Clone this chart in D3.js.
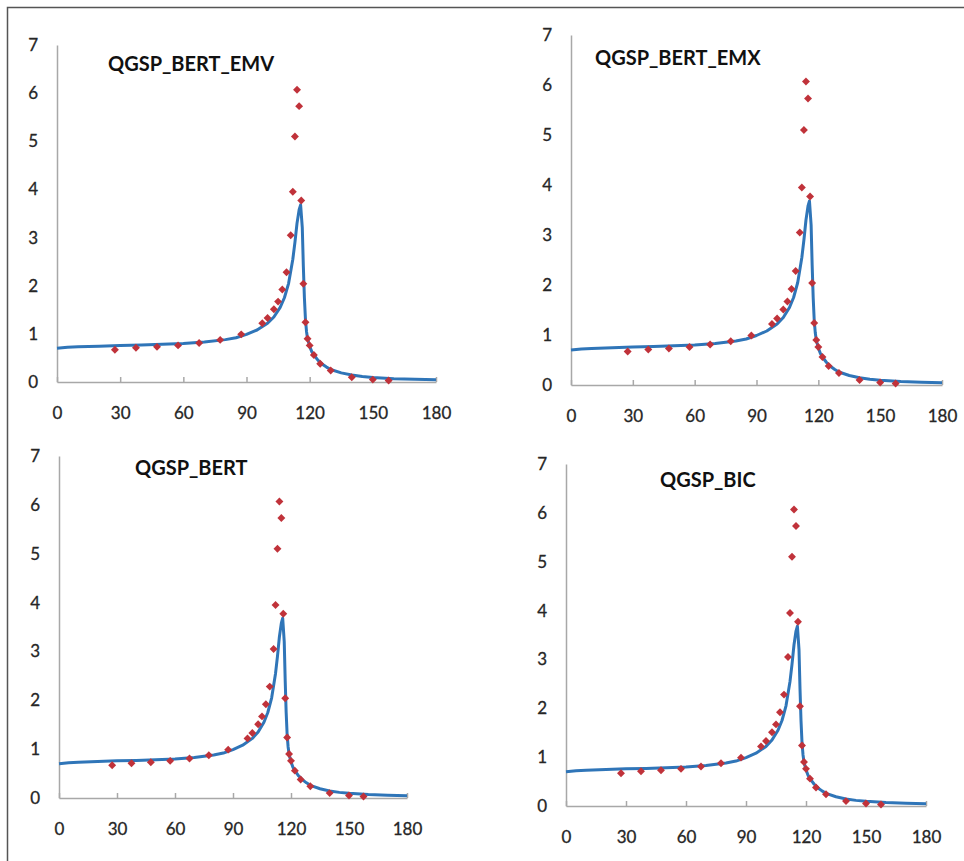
<!DOCTYPE html>
<html>
<head>
<meta charset="utf-8">
<script src="https://cdn.jsdelivr.net/npm/d3@7"></script>
<style>
  html, body { margin: 0; padding: 0; background: #fff; }
  svg { display: block; }
</style>
</head>
<body>
<svg id="chart" width="964" height="861"></svg>
<script>
// Model names, one per panel
const models = ["QGSP_BERT_EMV", "QGSP_BERT_EMX", "QGSP_BERT", "QGSP_BIC"];

// Measured points (angle in degrees, value)
const expAngles = [27.5, 37.5, 47.5, 57.5, 67.5, 77.5, 87.5, 97.5, 100, 103, 105, 107, 109,
                   111, 112, 113, 114, 115, 116, 117, 118, 119, 120, 122, 125, 130, 140, 150, 157.5];
const expValues = [0.67, 0.71, 0.73, 0.76, 0.81, 0.875, 0.99, 1.22, 1.33, 1.51, 1.67, 1.92, 2.28,
                   3.05, 3.95, 5.10, 6.07, 5.73, 3.77, 2.04, 1.24, 0.90, 0.76, 0.56, 0.38, 0.24, 0.10, 0.05, 0.03];

// Simulated curve (angle in degrees, value)
const simAngles = [0, 5, 10, 20, 30, 40, 50, 60, 70, 80, 85, 90, 95, 100, 103, 106, 108, 110,
                   112, 113, 114, 115, 115.7, 116.5, 117, 117.5, 118, 118.5, 119, 120, 121, 122,
                   124, 126, 128, 130, 135, 140, 145, 150, 160, 170, 180];
const simValues = [0.70, 0.72, 0.73, 0.745, 0.76, 0.77, 0.785, 0.80, 0.83, 0.88, 0.92, 0.99, 1.08,
                   1.22, 1.35, 1.55, 1.75, 2.05, 2.55, 2.9, 3.3, 3.58, 3.68, 3.2, 2.4, 1.75, 1.3,
                   1.05, 0.9, 0.74, 0.63, 0.56, 0.45, 0.37, 0.31, 0.26, 0.19, 0.145, 0.115, 0.095,
                   0.07, 0.055, 0.045];

// Axis tick values
const xTicks = [0, 30, 60, 90, 120, 150, 180];
const yTicks = [0, 1, 2, 3, 4, 5, 6, 7];

// Panel geometry: x-range of the angle axis, y of value 0 and 7, title anchor
const panels = [
  { x0: 57,  x1: 436, y0: 382, y7: 45,  tx: 108, ty: 70.5 },
  { x0: 571, x1: 942, y0: 385, y7: 35,  tx: 595, ty: 65 },
  { x0: 59,  x1: 407, y0: 798, y7: 456, tx: 135, ty: 475 },
  { x0: 566, x1: 926, y0: 806, y7: 464, tx: 660, ty: 487 }
];

const svg = d3.select("#chart");
const font = "Lato, 'Open Sans', sans-serif";
const expData = expAngles.map((a, i) => ({ a, v: expValues[i] }));
const simData = simAngles.map((a, i) => ({ a, v: simValues[i] }));

// outer frame (left and top edges)
svg.append("path")
  .attr("d", "M7.5,861 V7.5 H964")
  .attr("fill", "none")
  .attr("stroke", "#555")
  .attr("stroke-width", 1.5);

function styleLabels(sel) {
  sel.attr("font-family", font)
    .attr("font-size", 17)
    .attr("fill", "#262626")
    .attr("stroke", "#262626")
    .attr("stroke-width", 0.3);
}

panels.forEach((p, idx) => {
  const x = d3.scaleLinear().domain([0, 180]).range([p.x0, p.x1]);
  const y = d3.scaleLinear().domain([0, 7]).range([p.y0, p.y7]);
  const g = svg.append("g");

  // value axis
  const yAxis = g.append("g")
    .attr("transform", `translate(${p.x0},0)`)
    .call(d3.axisLeft(y).tickValues(yTicks).tickSize(0).tickPadding(19).tickFormat(d3.format("d")));
  yAxis.select(".domain").attr("stroke", "#a8a8a8").attr("stroke-width", 1.5);
  styleLabels(yAxis.selectAll("text"));

  // angle axis, ticks pointing up into the plot
  const xAxis = g.append("g")
    .attr("transform", `translate(0,${p.y0})`)
    .call(d3.axisBottom(x).tickValues(xTicks).tickSizeInner(-5).tickSizeOuter(0).tickPadding(25));
  xAxis.select(".domain").attr("stroke", "#a8a8a8").attr("stroke-width", 1.5);
  xAxis.selectAll(".tick line").attr("stroke", "#a8a8a8").attr("stroke-width", 1.5);
  styleLabels(xAxis.selectAll("text"));

  // simulated curve
  g.append("path")
    .datum(simData)
    .attr("fill", "none")
    .attr("stroke", "#2f75b8")
    .attr("stroke-width", 3)
    .attr("stroke-linejoin", "round")
    .attr("d", d3.line().x(d => x(d.a)).y(d => y(d.v)));

  // measured points
  g.selectAll(".pt")
    .data(expData)
    .join("path")
    .attr("class", "pt")
    .attr("transform", d => `translate(${x(d.a)},${y(d.v)})`)
    .attr("d", d3.symbol().type(d3.symbolDiamond2).size(40))
    .attr("fill", "#c0323a");

  // model title
  g.append("text")
    .attr("x", p.tx)
    .attr("y", p.ty)
    .attr("font-family", font)
    .attr("font-weight", "bold")
    .attr("font-size", 20)
    .attr("fill", "#111")
    .text(models[idx]);
});
</script>
</body>
</html>
